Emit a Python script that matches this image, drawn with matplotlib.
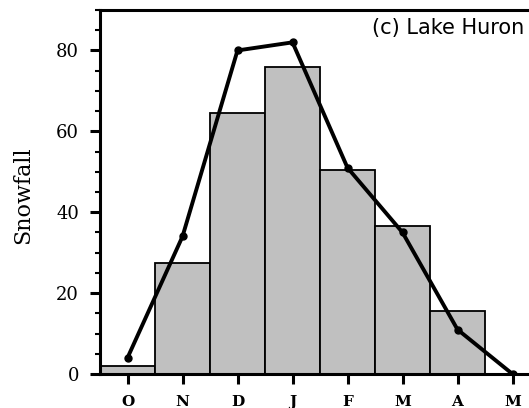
import numpy as np
import matplotlib.pyplot as plt

months = ['O', 'N', 'D', 'J', 'F', 'M', 'A', 'M']
bar_values = [2.0, 27.5, 64.5, 76.0, 50.5, 36.7, 15.5]
line_values = [4.0, 34.0, 80.0, 82.0, 51.0, 35.0, 11.0, 0.0]

W, H = 529, 408
fig = plt.figure(figsize=(W / 100, H / 100), dpi=100)
# axes runs a little past the right edge of the figure
ax = fig.add_axes([100 / W, 1 - 374 / H, 440 / W, 364 / H])

x = np.arange(len(months))
ax.bar(x[:len(bar_values)], bar_values, width=1.0, color='#c0c0c0',
       edgecolor='black', linewidth=1.3, zorder=2)
ax.plot(x, line_values, color='black', linewidth=2.8, marker='o',
        markersize=5, zorder=3)

ax.set_xlim(-0.5, 7.5)
ax.set_ylim(0, 90)
ax.set_xticks(x)
ax.set_xticklabels(months, family='DejaVu Serif', fontsize=11, fontweight='bold')
ax.set_yticks([0, 20, 40, 60, 80])
ax.set_yticks(np.arange(0, 91, 5), minor=True)
for lab in ax.get_yticklabels():
    lab.set_family('DejaVu Serif')
    lab.set_fontsize(13)
ax.tick_params(axis='both', which='major', direction='out', length=7, width=2.2, pad=8)
ax.tick_params(axis='y', which='minor', direction='out', length=3.5, width=1.5)
for s in ax.spines.values():
    s.set_linewidth(2.2)
ax.set_ylabel('Snowfall', family='DejaVu Serif', fontsize=16)
ax.yaxis.set_label_coords(-66 / 440, (374 - 195) / 364)

fig.text(524 / W, 1 - 28 / H, '(c) Lake Huron', ha='right', va='center',
         fontsize=15, family='DejaVu Sans')

fig.savefig('out.png', dpi=100)
